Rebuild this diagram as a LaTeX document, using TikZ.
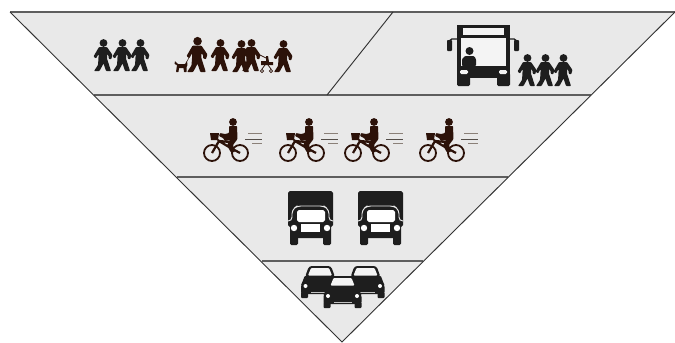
\documentclass[tikz,border=0pt]{standalone}
\usepackage{tikz}
\usepackage{xcolor}
\definecolor{zonefill}{HTML}{E9E9E9}
\definecolor{zoneline}{HTML}{5E5E5E}
\definecolor{edgeline}{HTML}{333333}
\definecolor{darkfig}{HTML}{1E1E1E}
\definecolor{brownfig}{HTML}{2C1209}
\definecolor{speedline}{HTML}{8A8078}
\definecolor{glassfill}{HTML}{F4F4F4}
\tikzset{
  walker/.pic={
    \fill[pic actions] (0.5,-28) circle (3.9);
    \fill[pic actions,rounded corners=0.8] (-4,-24)--(4,-24)--(9.5,-16)--(8,-11.5)--(5.5,-12.5)--(5.5,-15.5)--(4,-17)--(4,-12.5)--(8,0)--(3,0)--(0.5,-7.5)--(-3.5,0)--(-9,0)--(-5,-6)--(-4.5,-13)--(-4.5,-17)--(-7,-12.5)--(-9.5,-14.5)--cycle;
  },
  doggy/.pic={
    \fill[pic actions,rounded corners=0.5] (-6,-11)--(-3,-8)--(4,-8)--(6,-11)--(6.5,-7)--(5.5,-5)--(5.5,0)--(3,0)--(2.5,-4)--(-2,-4)--(-2.5,0)--(-5,0)--(-4,-7)--(-6.5,-8)--cycle;
  },
  pram/.pic={
    \draw[brownfig,line width=0.8] (-5,0) circle (1.6) (4,0) circle (1.6);
    \draw[brownfig,line width=0.8] (-5,-2)--(-2,-6) (4,-2)--(1,-6);
    \fill[brownfig] (-6,-10)--(-6,-6)--(6,-6)--(6,-9)--(2,-9)--(1,-15)--(-1,-15)--(-1,-10)--cycle;
    \draw[brownfig,line width=0.8] (-1,-13)--(-7,-16);
  },
  bus/.pic={
    \fill[darkfig] (-27,-62) rectangle (26,-9);
    \fill[darkfig,rounded corners=1.5] (-27,-14) rectangle (-14,-1) (13,-14) rectangle (26,-1);
    \fill[glassfill] (-21,-59) rectangle (20,-52);
    \fill[glassfill] (-23,-49) rectangle (22,-21);
    \fill[darkfig] (-14.5,-36) circle (4);
    \fill[darkfig,rounded corners=1] (-22,-21)--(-22,-28)--(-19,-31)--(-10,-31)--(-8,-28)--(-8,-21)--cycle;
    \fill[glassfill,rounded corners=1.5] (-24,-17) rectangle (-16,-13) (15,-17) rectangle (23,-13);
    \draw[darkfig,line width=1.4,rounded corners=2] (-27,-48)--(-34,-48)--(-35,-45);
    \draw[darkfig,line width=1.4,rounded corners=2] (26,-48)--(32,-48)--(33,-45);
    \fill[darkfig,rounded corners=1] (-37,-47) rectangle (-32,-36) (30,-47) rectangle (35,-36);
  },
  cyclist/.pic={
    \draw[brownfig,line width=1.9,fill=zonefill] (0,0) circle (8) (28,0) circle (8);
    \draw[brownfig,line width=2.4] (0,0)--(7,-12)--(17,-6)--(28,0) (7,-12)--(18,-11);
    \draw[brownfig,line width=1.6] (7,-12)--(4,-15);
    \fill[brownfig] (-2,-20)--(7,-20)--(6,-13)--(-1,-13)--cycle;
    \fill[brownfig] (21,-31) circle (3.9);
    \fill[brownfig,rounded corners=0.8] (17,-27)--(25,-27)--(25.5,-14)--(21,-8)--(23,-1)--(18.5,-1)--(15,-8)--(18,-13)--(13,-12)--(11,-15)--(7,-17)--(8,-20)--(13,-19)--(17,-20)--cycle;
    \draw[speedline,line width=0.8] (36,-20)--(50,-20) (40,-10)--(50,-10);
    \draw[speedline!60!black,line width=1] (33,-14)--(50,-14);
  },
  truck/.pic={
    \fill[darkfig,rounded corners=2] (-22,-54) rectangle (23,-18);
    \fill[darkfig,rounded corners=1.5] (-20,-20) rectangle (-12,0) (13,-20) rectangle (21,0);
    \fill[darkfig,rounded corners=2] (-19,-40) rectangle (20,-7);
    \draw[zonefill,line width=1,rounded corners=4] (-22,-24)--(-18,-24)--(-18,-35)--(-13,-39)--(14,-39)--(19,-35)--(19,-24)--(23,-24);
    \fill[white,rounded corners=2] (-13,-35)--(15,-35)--(15,-23)--(-13,-23)--cycle;
    \fill[white] (-9,-21) rectangle (10,-13);
    \fill[white] (-16,-17) circle (3.2) (17,-17) circle (3.2);
  },
  autocar/.pic={
    \fill[darkfig,rounded corners=2] (-15,-23)--(-18,-15)--(-19,-13)--(-19,-4)--(19,-4)--(19,-13)--(18,-15)--(15,-23)--cycle;
    \fill[darkfig,rounded corners=1] (-19,-6) rectangle (-12,0) (12,-6) rectangle (19,0);
    \fill[darkfig,rounded corners=3] (-15,-21)--(-11,-32)--(11,-32)--(15,-21)--cycle;
    \fill[glassfill,rounded corners=1] (-12,-22.5)--(-9,-30)--(9,-30)--(12,-22.5)--cycle;
    \fill[white] (-14.5,-12) circle (2) (14.5,-12) circle (2);
    \fill[zonefill!80!darkfig] (-9,-6.5) rectangle (9,-5);
  }
}
\begin{document}
\begin{tikzpicture}[x=0.0375cm,y=-0.0375cm]
\useasboundingbox (0,0) rectangle (675,342);
\fill[zonefill] (10,12)--(675,12)--(342,342)--cycle;
\draw[zoneline,line width=1.5] (10,12)--(675,12);
\draw[zoneline,line width=1.5] (94,95)--(591,95);
\draw[zoneline,line width=1.2] (177,177)--(508,177);
\draw[zoneline,line width=1.2] (262,261)--(423,261);
\draw[edgeline,line width=1] (393,12)--(327,95);
\draw[edgeline,line width=1] (10,12)--(342,342)--(675,12);
% walkers
\foreach \x in {103,122,140} \pic[fill=darkfig] at (\x,71) {walker};
\pic[fill=brownfig,scale=1.1] at (197,72) {walker};
\pic[fill=brownfig] at (181,72) {doggy};
\draw[brownfig,line width=0.5] (186,63)--(190,56);
\pic[fill=brownfig] at (220,71) {walker};
\pic[fill=brownfig] at (241,72) {walker};
\pic[fill=brownfig] at (251,71) {walker};
\pic at (267,71) {pram};
\pic[fill=brownfig] at (283,72) {walker};
% bus and its queue
\pic at (484,87) {bus};
\foreach \x in {527,545,563} \pic[fill=darkfig] at (\x,86) {walker};
% cyclists
\foreach \x in {212,288,353,428} \pic at (\x,153) {cyclist};
% lorries
\pic at (310,245) {truck};
\pic at (380,245) {truck};
% cars
\pic at (320,298) {autocar};
\pic at (365.5,298) {autocar};
\pic at (342.5,308) {autocar};
\end{tikzpicture}
\end{document}
